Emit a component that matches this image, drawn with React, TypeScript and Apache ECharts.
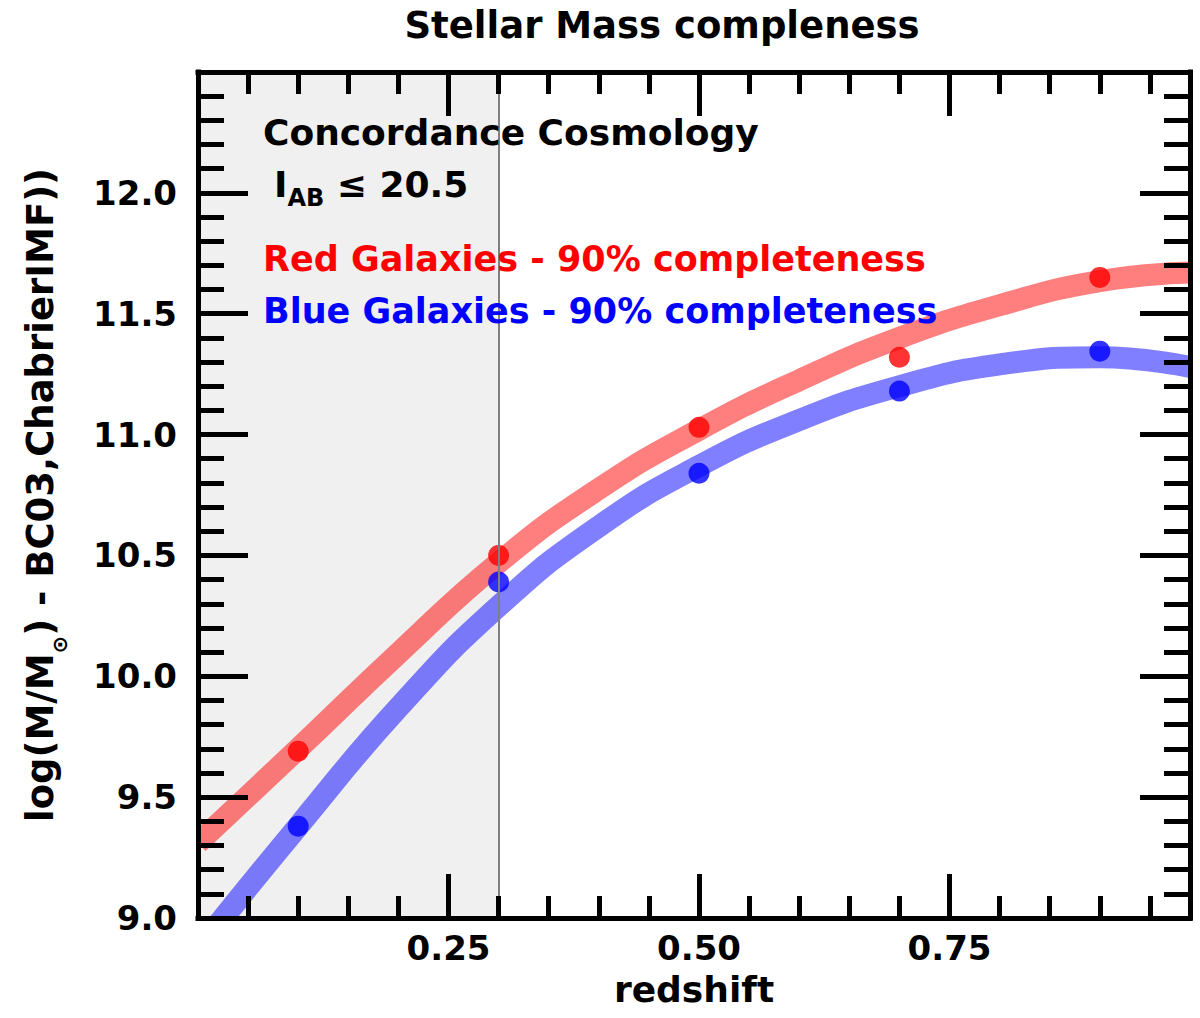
import React, { useEffect, useRef } from "react";
import * as echarts from "echarts";

// ---- data ----
const pointRedshift = [0.1, 0.3, 0.5, 0.7, 0.9];
const redPoints = [9.69, 10.5, 11.03, 11.32, 11.65];
const bluePoints = [9.38, 10.39, 10.84, 11.18, 11.345];

const curveRedshift = [0.0, 0.1, 0.2, 0.3, 0.4, 0.5, 0.6, 0.7, 0.8, 0.9, 0.99];
const redCurve = [9.31, 9.7, 10.095, 10.47, 10.775, 11.02, 11.225, 11.4, 11.535, 11.635, 11.67];
const blueCurve = [8.87, 9.38, 9.87, 10.29, 10.62, 10.87, 11.06, 11.2, 11.29, 11.32, 11.28];

const shadeRange = [0.0, 0.3];
const xTickLabels = ["0.25", "0.50", "0.75"];
const yTickLabels = ["9.0", "9.5", "10.0", "10.5", "11.0", "11.5", "12.0"];

const titleText = "Stellar Mass compleness";
const xName = "redshift";
const line1 = "Concordance Cosmology";
const redLabel = "Red Galaxies - 90% completeness";
const blueLabel = "Blue Galaxies - 90% completeness";

const FONT = '"DejaVu Sans", "Liberation Sans", sans-serif';

const X_MIN = 0;
const X_MAX = 0.99;
const Y_MIN = 9;
const Y_MAX = 12.5;

function makeX(position: "bottom" | "top", major: boolean, labels: boolean, name?: string) {
  return {
    type: "value",
    position,
    min: X_MIN,
    max: X_MAX,
    interval: major ? 0.25 : 0.05,
    z: 10,
    name: name || "",
    nameLocation: "middle",
    nameGap: 53,
    nameTextStyle: { fontFamily: FONT, fontWeight: "bold", fontSize: 36, color: "#000" },
    axisLine: {
      show: major,
      onZero: false,
      lineStyle: { color: "#000", width: 5, cap: "square" },
    },
    axisTick: {
      show: true,
      inside: true,
      length: major ? 44 : 22,
      lineStyle: { color: "#000", width: 5 },
    },
    axisLabel: {
      show: labels,
      margin: 13,
      fontFamily: FONT,
      fontWeight: "bold",
      fontSize: 34,
      color: "#000",
      showMinLabel: false,
      showMaxLabel: false,
      formatter: (v: number) => {
        const s = v.toFixed(2);
        return xTickLabels.includes(s) ? s : "";
      },
    },
    splitLine: { show: false },
  };
}

function makeY(position: "left" | "right", labels: boolean) {
  return {
    type: "value",
    position,
    min: Y_MIN,
    max: Y_MAX,
    interval: 0.5,
    z: 10,
    name: labels ? "{a|log(M/M}{s|⊙}{a|) - BC03,ChabrierIMF))}" : "",
    nameLocation: "middle",
    nameGap: 128,
    nameTextStyle: {
      fontFamily: FONT,
      fontWeight: "bold",
      fontSize: 37,
      color: "#000",
      rich: {
        a: { fontFamily: FONT, fontWeight: "bold", fontSize: 37, color: "#000", verticalAlign: "top" },
        s: {
          fontFamily: FONT,
          fontWeight: "bold",
          fontSize: 21,
          color: "#000",
          verticalAlign: "top",
          padding: [27, 0, 0, 0],
        },
      },
    },
    axisLine: {
      show: true,
      onZero: false,
      lineStyle: { color: "#000", width: 5, cap: "square" },
    },
    axisTick: {
      show: true,
      inside: true,
      length: 50,
      lineStyle: { color: "#000", width: 5 },
    },
    minorTick: {
      show: true,
      splitNumber: 5,
      length: 26,
      lineStyle: { color: "#000", width: 5 },
    },
    axisLabel: {
      show: labels,
      margin: 21,
      fontFamily: FONT,
      fontWeight: "bold",
      fontSize: 34,
      color: "#000",
      showMaxLabel: false,
      formatter: (v: number) => {
        const s = v.toFixed(1);
        return yTickLabels.includes(s) ? s : "";
      },
    },
    splitLine: { show: false },
    minorSplitLine: { show: false },
  };
}

// white masks that hide the thick curve strokes poking out of the plot frame
const maskStyle = { fill: "#ffffff" };

export default function App() {
  const ref = useRef<HTMLDivElement>(null);

  useEffect(() => {
    if (!ref.current) return;
    const chart = echarts.init(ref.current, null, { renderer: "svg" });

    const redLine = curveRedshift.map((x, i) => [x, redCurve[i]]);
    const blueLine = curveRedshift.map((x, i) => [x, blueCurve[i]]);
    const redDots = pointRedshift.map((x, i) => [x, redPoints[i]]);
    const blueDots = pointRedshift.map((x, i) => [x, bluePoints[i]]);

    chart.setOption({
      animation: false,
      backgroundColor: "#fff",
      grid: { left: 198, right: 10, top: 72, bottom: 100, containLabel: false },
      xAxis: [
        makeX("bottom", true, true, xName),
        makeX("bottom", false, false),
        makeX("top", true, false),
        makeX("top", false, false),
      ],
      yAxis: [makeY("left", true), makeY("right", false)],
      graphic: [
        { type: "rect", z: 5, silent: true, shape: { x: 150, y: 700, width: 48, height: 240 }, style: maskStyle },
        { type: "rect", z: 5, silent: true, shape: { x: 150, y: 918, width: 300, height: 22 }, style: maskStyle },
        { type: "rect", z: 5, silent: true, shape: { x: 1190, y: 200, width: 10, height: 250 }, style: maskStyle },
        {
          type: "text",
          x: 662,
          y: 25,
          z: 20,
          style: {
            text: titleText,
            fontFamily: FONT,
            fontWeight: "bold",
            fontSize: 37,
            fill: "#000",
            textAlign: "center",
            textVerticalAlign: "middle",
          },
        },
        {
          type: "text",
          x: 263,
          y: 132,
          z: 20,
          style: {
            text: line1,
            fontFamily: FONT,
            fontWeight: "bold",
            fontSize: 36,
            fill: "#000",
            textAlign: "left",
            textVerticalAlign: "middle",
          },
        },
        {
          type: "text",
          x: 274,
          y: 166,
          z: 20,
          style: {
            text: "{i|I}{ab|AB}{i| ≤ 20.5}",
            fontFamily: FONT,
            fontWeight: "bold",
            fontSize: 36,
            fill: "#000",
            textAlign: "left",
            textVerticalAlign: "top",
            rich: {
              i: { fontFamily: FONT, fontWeight: "bold", fontSize: 36, fill: "#000", verticalAlign: "top" },
              ab: {
                fontFamily: FONT,
                fontWeight: "bold",
                fontSize: 24,
                fill: "#000",
                verticalAlign: "top",
                padding: [20, 0, 0, 0],
              },
            },
          },
        },
        {
          type: "text",
          x: 263,
          y: 259,
          z: 20,
          style: {
            text: redLabel,
            fontFamily: FONT,
            fontWeight: "bold",
            fontSize: 35,
            fill: "#ff0000",
            textAlign: "left",
            textVerticalAlign: "middle",
          },
        },
        {
          type: "text",
          x: 263,
          y: 311,
          z: 20,
          style: {
            text: blueLabel,
            fontFamily: FONT,
            fontWeight: "bold",
            fontSize: 35,
            fill: "#0000ff",
            textAlign: "left",
            textVerticalAlign: "middle",
          },
        },
      ],
      series: [
        {
          name: "shade",
          type: "line",
          data: [],
          z: 1,
          silent: true,
          markArea: {
            silent: true,
            itemStyle: { color: "#f0f0f0" },
            label: { show: false },
            data: [[{ xAxis: shadeRange[0] }, { xAxis: shadeRange[1] }]],
          },
        },
        {
          name: "Red curve",
          type: "line",
          data: redLine,
          smooth: 0.5,
          showSymbol: false,
          clip: true,
          z: 2,
          lineStyle: { color: "rgba(255,0,0,0.5)", width: 22, cap: "butt" },
        },
        {
          name: "Blue curve",
          type: "line",
          data: blueLine,
          smooth: 0.5,
          showSymbol: false,
          clip: true,
          z: 2,
          lineStyle: { color: "rgba(0,0,255,0.5)", width: 22, cap: "butt" },
        },
        {
          name: "Red Galaxies",
          type: "scatter",
          data: redDots,
          symbol: "circle",
          symbolSize: 21,
          z: 3,
          itemStyle: { color: "#ff0000" },
        },
        {
          name: "Blue Galaxies",
          type: "scatter",
          data: blueDots,
          symbol: "circle",
          symbolSize: 21,
          z: 3,
          itemStyle: { color: "#0000ff" },
        },
        {
          name: "limit",
          type: "line",
          data: [],
          z: 4,
          silent: true,
          markLine: {
            silent: true,
            symbol: ["none", "none"],
            label: { show: false },
            lineStyle: { color: "#808080", width: 2, type: "solid" },
            data: [{ xAxis: shadeRange[1] }],
          },
        },
      ],
    });

    return () => chart.dispose();
  }, []);

  return (
    <div
      ref={ref}
      style={{ position: "absolute", left: 0, top: 0, width: 1200, height: 1018 }}
    />
  );
}
